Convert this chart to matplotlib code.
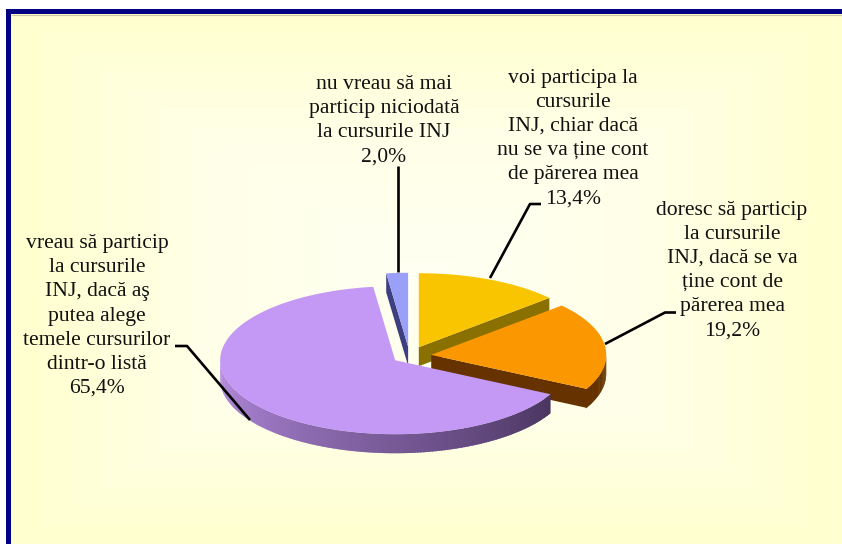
import matplotlib
matplotlib.use("Agg")
import matplotlib.pyplot as plt
from matplotlib.colors import LinearSegmentedColormap, to_rgb
import numpy as np

plt.rcParams["font.family"] = ["Liberation Serif", "DejaVu Serif"]

# data, clockwise from 12 o'clock
values = [13.4, 19.2, 65.4, 2.0]
value_labels = ["13,4%", "19,2%", "65,4%", "2,0%"]
labels = [
    "voi participa la\ncursurile\nINJ, chiar dacă\nnu se va ține cont\nde părerea mea",
    "doresc să particip\nla cursurile\nINJ, dacă se va\nține cont de\npărerea mea",
    "vreau să particip\nla cursurile\nINJ, dacă aş\nputea alege\ntemele cursurilor\ndintr-o listă",
    "nu vreau să mai\nparticip niciodată\nla cursurile INJ",
]

# styles and layout
top_colors = ["#f9c400", "#fb9700", "#c499f5", "#9aa0f8"]
cut_colors = ["#8a7000", "#663300", None, "#3c4080"]
arc_dark = ["#8a7000", "#663300", "#4a3560", "#3c4080"]
explode = [0.13, 0.125, 0.10, 0.125]
label_pos = [(573, 138.5), (732, 270.5), (97, 316), (384, 120.5)]
leaders = [
    [(541, 204), (530, 204), (490, 278)],
    [(676, 312.5), (665, 312.5), (605, 344)],
    [(175, 346), (187, 346), (250, 420)],
    [(398, 166), (398, 272)],
]
cx, cy = 409.5, 356
rx, ry = 175, 74
depth = 19


def pt(x0, y0, ang, r=1.0):
    a = np.radians(ang)
    return x0 + r * rx * np.sin(a), y0 - r * ry * np.cos(a)


fig = plt.figure(figsize=(8.42, 5.44), dpi=100, facecolor="white")
ax = fig.add_axes([0, 0, 1, 1])
ax.set_xlim(0, 842)
ax.set_ylim(544, 0)
ax.axis("off")

# rectangular banded gradient for the panel
xx, yy = np.meshgrid(np.arange(11, 842), np.arange(14, 544))
t = np.maximum(np.abs(xx - 426) / 415, np.abs(yy - 279) / 265)
t = np.floor(np.clip(t, 0, 1) * 14) / 14
cmap = LinearSegmentedColormap.from_list("bg", ["#fffff2", "#ffffe8", "#ffffcc"])
ax.imshow(t, extent=(11, 842, 544, 14), cmap=cmap, vmin=0, vmax=1, aspect="auto", zorder=0)

ax.fill([6, 842, 842, 11, 11, 6], [9, 9, 14, 14, 544, 544], color="#000080", lw=0, zorder=1)
ax.plot([11.5, 842], [14.5, 14.5], color="#c8c8a8", lw=0.8, zorder=1)

total = sum(values)
angles = np.cumsum([0] + [v / total * 360 for v in values])

# back to front: yellow, blue, orange, lilac
z = 2
for i in [0, 3, 1, 2]:
    a0, a1 = angles[i], angles[i + 1]
    mid = (a0 + a1) / 2
    ox, oy = pt(cx, cy, mid, explode[i])

    # cut face that looks to the viewer
    if cut_colors[i] and i != 3:
        ex, ey = pt(ox, oy, a1)
        ax.fill([ox, ex, ex, ox], [oy, ey, ey + depth, oy + depth],
                color=cut_colors[i], lw=0, zorder=z)
    if i == 3:
        ex, ey = pt(ox, oy, a0)
        ax.fill([ox, ex, ex, ox], [oy, ey, ey + depth, oy + depth],
                color=cut_colors[i], lw=0, zorder=z)

    # outer wall, only the front half shows
    w0, w1 = max(a0, 90), min(a1, 270)
    if w1 > w0:
        steps = np.linspace(w0, w1, int(w1 - w0) + 2)
        for s0, s1 in zip(steps[:-1], steps[1:]):
            if i == 2:
                f = (s0 - w0) / (w1 - w0)
                c0, c1 = np.array(to_rgb("#4a3560")), np.array(to_rgb("#b88ee4"))
                col = c0 + (c1 - c0) * f
            else:
                col = arc_dark[i]
            x0, y0 = pt(ox, oy, s0)
            x1, y1 = pt(ox, oy, s1 + 0.6)
            ax.fill([x0, x1, x1, x0], [y0, y1, y1 + depth, y0 + depth],
                    color=col, lw=0, zorder=z)

    # top face
    arc = np.linspace(a0, a1, 120)
    px, py = pt(ox, oy, arc)
    ax.fill(np.r_[ox, px], np.r_[oy, py], color=top_colors[i], lw=0, zorder=z + 0.5)
    z += 1

for line in leaders:
    xs, ys = zip(*line)
    ax.plot(xs, ys, color="black", lw=1.9, zorder=10, solid_capstyle="butt")

for lab, val, (lx, ly) in zip(labels, value_labels, label_pos):
    ax.text(lx, ly, lab + "\n" + val, ha="center", va="center", fontsize=15.6,
            linespacing=1.37, color="#111111", zorder=11)

fig.savefig("out.png", dpi=100, facecolor="white")
